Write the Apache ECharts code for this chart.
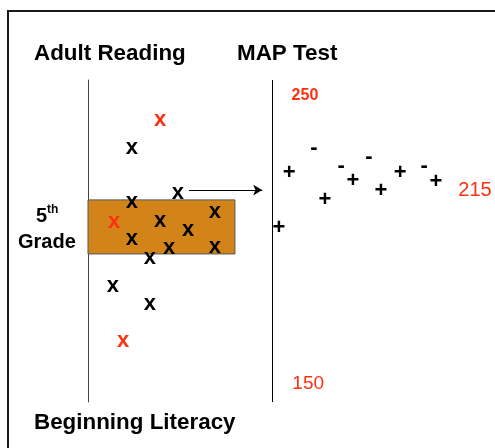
<!DOCTYPE html>
<html>
<head>
<meta charset="utf-8">
<script src="https://cdn.jsdelivr.net/npm/echarts@6/dist/echarts.min.js"></script>
<style>
	html, body { margin: 0; padding: 0; background: #fff; }
	#main { width: 495px; height: 448px; }
</style>
</head>
<body>
<div id="main"></div>
<script>
// ---- data (x = position across the slide, y = MAP score scale) ----
var readingBlackX = [10.8, 10.8, 22.1, 17.7, 24.6, 31.2, 10.8, 15.2, 19.9, 31.2, 6.1, 15.2];
var readingBlackY = [231.8, 213.0, 216.2, 206.4, 203.3, 209.6, 200.2, 193.6, 197.0, 197.4, 183.8, 177.6];
var readingRedX = [17.7, 6.4, 8.6];
var readingRedY = [241.6, 206.1, 164.7];

var mapPlusX = [49.4, 46.9, 58.2, 65.1, 72.0, 76.7, 85.5];
var mapPlusY = [223.1, 204.0, 213.7, 220.3, 216.9, 223.1, 220.0];
var mapMinusX = [55.5, 62.2, 69.0, 82.6];
var mapMinusY = [231.8, 225.6, 228.7, 225.6];

var gradeBand = [195, 213.8];     // 5th grade band on the score scale
var bandRightX = 36.1;
var mapLineX = 45.2;
var arrowFrom = [24.8, 217.2];
var arrowTo = [42.8, 217.2];

var scaleLabels = ['250', '150', '215'];
var scaleLabelX = [53.3, 54.1, 95.1];
var scaleLabelY = [250, 150, 215];

function pairs(xs, ys) {
	var out = [];
	for (var i = 0; i < xs.length; i++) {
		out.push([xs[i], ys[i]]);
	}
	return out;
}

var myChart = echarts.init(document.getElementById('main'));

// marks are drawn as text glyphs on invisible points
var glyph = function (txt, color, size) {
	return {
		show : true,
		position : 'inside',
		formatter : txt,
		color : color,
		opacity : 1,
		textBorderWidth : 0,
		fontSize : size,
		fontWeight : 'bold',
		fontFamily : 'Liberation Sans, Arial, sans-serif'
	};
};

var headStyle = { fontSize : 22.4, fontWeight : 'bold', color : '#000', fontFamily : 'Liberation Sans' };
var red = '#FF3010';

var option = {
	animation : false,
	backgroundColor : '#fff',
	graphic : [ {
		type : 'rect',
		shape : { x : 8, y : 11, width : 700, height : 700 },
		style : { fill : 'none', stroke : '#1a1a1a', lineWidth : 2 }
	} ],
	title : [ {
		text : 'Adult Reading',
		left : 34, top : 43, padding : 0,
		textStyle : headStyle
	}, {
		text : 'MAP Test',
		left : 237, top : 43, padding : 0,
		textStyle : headStyle
	}, {
		text : 'Beginning Literacy',
		left : 34, top : 412, padding : 0,
		textStyle : headStyle
	}, {
		text : '{n|5}{s|th}',
		left : 36, top : 204, padding : 0,
		textStyle : {
			rich : {
				n : { fontSize : 20, fontWeight : 'bold', color : '#000', fontFamily : 'Liberation Sans' },
				s : { fontSize : 12, fontWeight : 'bold', color : '#000', fontFamily : 'Liberation Sans',
					verticalAlign : 'top', padding : [ 0, 0, 12, 0 ] }
			}
		}
	}, {
		text : 'Grade',
		left : 18, top : 232, padding : 0,
		textStyle : { fontSize : 20, fontWeight : 'bold', color : '#000', fontFamily : 'Liberation Sans' }
	} ],
	grid : {
		left : 88,
		right : 0,
		top : 80,
		height : 322,
		containLabel : false
	},
	xAxis : {
		type : 'value',
		min : 0,
		max : 100,
		show : false
	},
	yAxis : {
		type : 'value',
		min : 143.5,
		max : 255.5,
		axisLine : { show : true, onZero : false, lineStyle : { color : '#444', width : 1 } },
		axisTick : { show : false },
		axisLabel : { show : false },
		splitLine : { show : false }
	},
	series : [ {
		name : 'band',
		type : 'scatter',
		symbolSize : 0,
		data : [],
		silent : true,
		z : 1,
		markArea : {
			silent : true,
			itemStyle : { color : '#D28419', borderColor : '#555', borderWidth : 1 },
			data : [ [ { xAxis : 0, yAxis : gradeBand[0] }, { xAxis : bandRightX, yAxis : gradeBand[1] } ] ]
		},
		markLine : {
			silent : true,
			symbol : [ 'none', 'none' ],
			label : { show : false },
			lineStyle : { color : '#000', width : 1, type : 'solid' },
			data : [ { xAxis : mapLineX } ]
		}
	}, {
		name : 'arrow',
		type : 'scatter',
		symbolSize : 0,
		data : [],
		silent : true,
		markLine : {
			silent : true,
			symbol : [ 'none', 'arrow' ],
			symbolSize : [ 8, 9 ],
			label : { show : false },
			lineStyle : { color : '#000', width : 1, type : 'solid' },
			data : [ [ { coord : arrowFrom }, { coord : arrowTo } ] ]
		}
	}, {
		name : 'reading',
		type : 'scatter',
		symbolSize : 1,
		silent : true,
		itemStyle : { color : 'transparent' },
		z : 5,
		label : glyph('x', '#000', 22),
		data : pairs(readingBlackX, readingBlackY)
	}, {
		name : 'reading red',
		type : 'scatter',
		symbolSize : 1,
		silent : true,
		itemStyle : { color : 'transparent' },
		z : 5,
		label : glyph('x', red, 22),
		data : pairs(readingRedX, readingRedY)
	}, {
		name : 'map plus',
		type : 'scatter',
		symbolSize : 1,
		silent : true,
		itemStyle : { color : 'transparent' },
		z : 5,
		label : glyph('+', '#000', 22),
		data : pairs(mapPlusX, mapPlusY)
	}, {
		name : 'map minus',
		type : 'scatter',
		symbolSize : 1,
		silent : true,
		itemStyle : { color : 'transparent' },
		z : 5,
		label : glyph('-', '#000', 22),
		data : pairs(mapMinusX, mapMinusY)
	}, {
		name : 'scale labels',
		type : 'scatter',
		symbolSize : 1,
		silent : true,
		itemStyle : { color : 'transparent' },
		z : 5,
		label : {
			show : true,
			position : 'inside',
			color : red,
			opacity : 1,
			textBorderWidth : 0,
			fontFamily : 'Liberation Sans',
			formatter : function (p) { return scaleLabels[p.dataIndex]; }
		},
		data : [ {
			value : [ scaleLabelX[0], scaleLabelY[0] ],
			label : { fontSize : 16, fontWeight : 'bold' }
		}, {
			value : [ scaleLabelX[1], scaleLabelY[1] ],
			label : { fontSize : 19 }
		}, {
			value : [ scaleLabelX[2], scaleLabelY[2] ],
			label : { fontSize : 20, offset : [ 0, -6 ] }
		} ]
	} ]
};

myChart.setOption(option);
</script>
</body>
</html>
